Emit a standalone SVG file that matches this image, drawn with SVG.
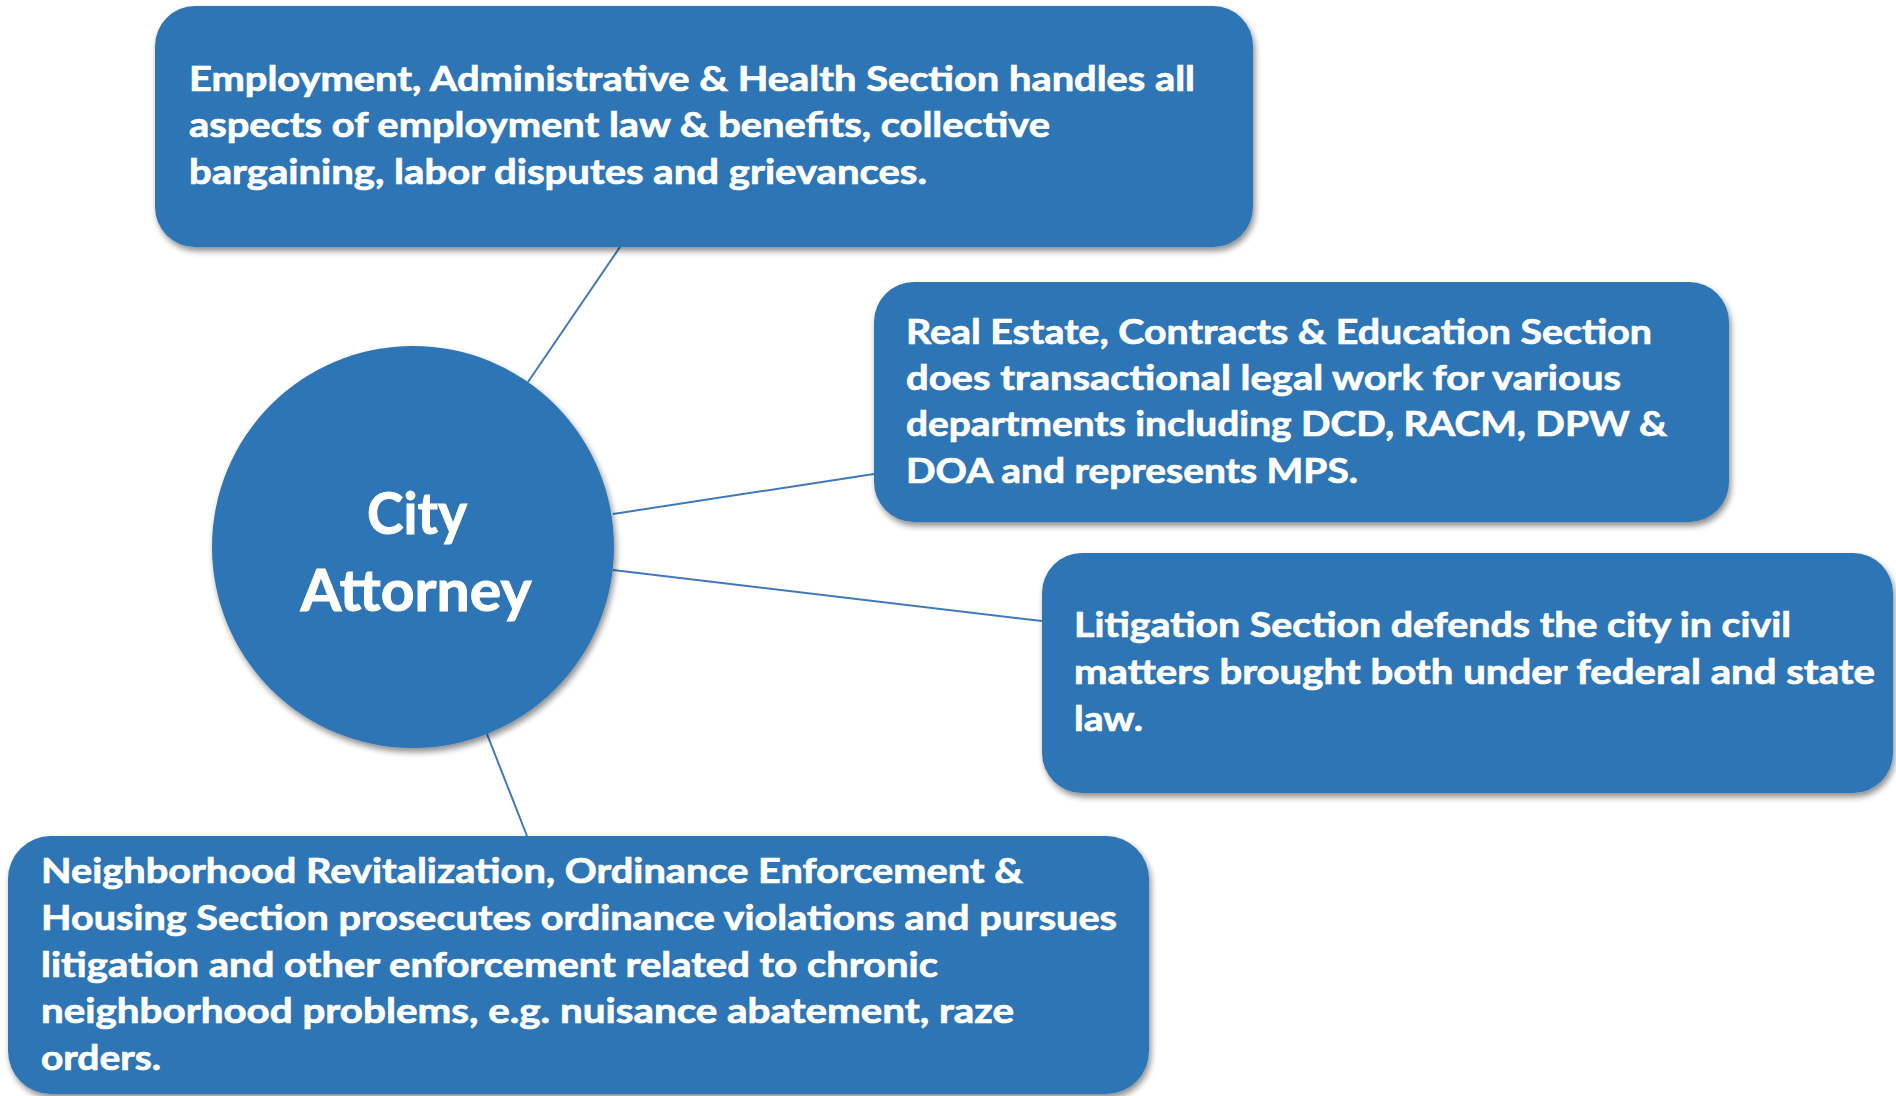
<svg xmlns="http://www.w3.org/2000/svg" width="1896" height="1096" viewBox="0 0 1896 1096">
  <defs>
    <filter id="sh" x="-10%" y="-10%" width="120%" height="130%">
      <feGaussianBlur in="SourceAlpha" stdDeviation="3"/>
      <feOffset dx="2" dy="4" result="b"/>
      <feComponentTransfer><feFuncA type="linear" slope="0.45"/></feComponentTransfer>
      <feMerge><feMergeNode/><feMergeNode in="SourceGraphic"/></feMerge>
    </filter>
  </defs>
  <style>
    .box { fill: #2E75B6; filter: url(#sh); }
    .t { font-family: Lato, "Open Sans", sans-serif; font-weight: bold; font-size: 34px; fill: #ffffff; stroke: #ffffff; stroke-width: 0.7; }
    .big { font-family: Lato, "Open Sans", sans-serif; font-weight: bold; font-size: 58px; fill: #ffffff; stroke: #ffffff; stroke-width: 1; text-anchor: middle; }
    .conn { stroke: #4079BA; stroke-width: 2; fill: none; }
  </style>
  <rect width="1896" height="1096" fill="#ffffff"/>
  <g id="connectors">
    <line class="conn" x1="528" y1="382" x2="620" y2="247"/>
    <line class="conn" x1="613" y1="514" x2="874" y2="474"/>
    <line class="conn" x1="613" y1="570" x2="1042" y2="621"/>
    <line class="conn" x1="487" y1="734" x2="527" y2="836"/>
  </g>
  <g id="employment">
    <rect class="box" x="155" y="6" width="1098" height="241" rx="40" ry="40"/>
    <text class="t" x="189" y="91" textLength="1006" lengthAdjust="spacingAndGlyphs">Employment, Administrative &amp; Health Section handles all</text>
    <text class="t" x="189" y="137" textLength="861" lengthAdjust="spacingAndGlyphs">aspects of employment law &amp; benefits, collective</text>
    <text class="t" x="189" y="184" textLength="738" lengthAdjust="spacingAndGlyphs">bargaining, labor disputes and grievances.</text>
  </g>
  <g id="realestate">
    <rect class="box" x="874" y="282" width="855" height="240" rx="40" ry="40"/>
    <text class="t" x="906" y="344" textLength="746" lengthAdjust="spacingAndGlyphs">Real Estate, Contracts &amp; Education Section</text>
    <text class="t" x="906" y="390" textLength="715" lengthAdjust="spacingAndGlyphs">does transactional legal work for various</text>
    <text class="t" x="906" y="436" textLength="761" lengthAdjust="spacingAndGlyphs">departments including DCD, RACM, DPW &amp;</text>
    <text class="t" x="906" y="483" textLength="452" lengthAdjust="spacingAndGlyphs">DOA and represents MPS.</text>
  </g>
  <g id="litigation">
    <rect class="box" x="1042" y="553" width="851" height="240" rx="40" ry="40"/>
    <text class="t" x="1074" y="637" textLength="717" lengthAdjust="spacingAndGlyphs">Litigation Section defends the city in civil</text>
    <text class="t" x="1074" y="684" textLength="801" lengthAdjust="spacingAndGlyphs">matters brought both under federal and state</text>
    <text class="t" x="1074" y="731" textLength="69" lengthAdjust="spacingAndGlyphs">law.</text>
  </g>
  <g id="neighborhood">
    <rect class="box" x="8" y="836" width="1141" height="258" rx="43" ry="43"/>
    <text class="t" x="41" y="883" textLength="982" lengthAdjust="spacingAndGlyphs">Neighborhood Revitalization, Ordinance Enforcement &amp;</text>
    <text class="t" x="41" y="930" textLength="1076" lengthAdjust="spacingAndGlyphs">Housing Section prosecutes ordinance violations and pursues</text>
    <text class="t" x="41" y="977" textLength="897" lengthAdjust="spacingAndGlyphs">litigation and other enforcement related to chronic</text>
    <text class="t" x="41" y="1023" textLength="973" lengthAdjust="spacingAndGlyphs">neighborhood problems, e.g. nuisance abatement, raze</text>
    <text class="t" x="41" y="1070" textLength="120" lengthAdjust="spacingAndGlyphs">orders.</text>
  </g>
  <g id="city-attorney">
    <circle class="box" cx="413" cy="547" r="201"/>
    <text class="big" x="417" y="534" textLength="100" lengthAdjust="spacingAndGlyphs">City</text>
    <text class="big" x="416" y="611" textLength="231" lengthAdjust="spacingAndGlyphs">Attorney</text>
  </g>
</svg>
